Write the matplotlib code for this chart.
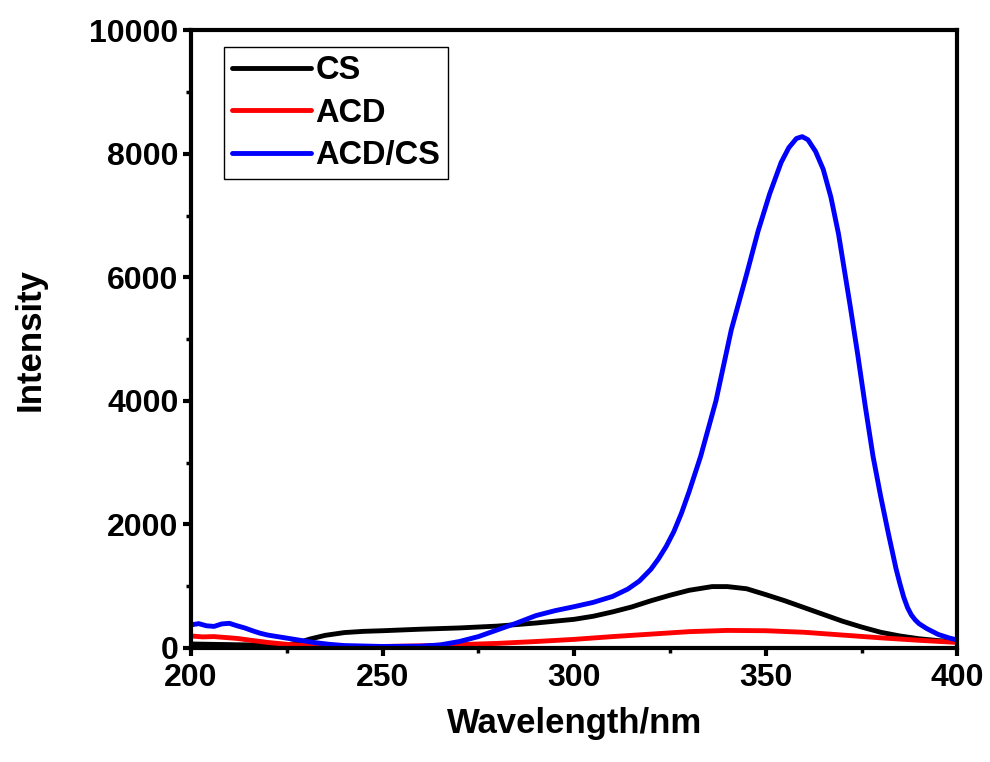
import matplotlib
matplotlib.use("Agg")
import matplotlib.pyplot as plt
from matplotlib.ticker import MultipleLocator

# values (wavelength in nm, intensity)
cs_wl = [200, 205, 210, 215, 220, 225, 228, 231, 235, 240, 245, 250, 260, 270, 280, 290, 300,
         305, 310, 315, 320, 325, 330, 336, 340, 345, 350, 355, 360, 365, 370, 375, 380, 385,
         390, 395, 400]
cs_int = [60, 55, 50, 45, 40, 45, 80, 140, 200, 245, 265, 275, 300, 320, 350, 400, 460,
          510, 580, 660, 760, 850, 930, 990, 990, 955, 860, 760, 650, 540, 430, 335, 250, 190,
          145, 115, 95]

acd_wl = [200, 203, 206, 209, 212, 215, 220, 225, 230, 240, 250, 260, 270, 280, 290, 300,
          310, 320, 330, 340, 350, 360, 370, 380, 390, 400]
acd_int = [190, 175, 180, 165, 150, 125, 85, 55, 35, 20, 20, 30, 50, 70, 100, 135,
           180, 220, 260, 280, 275, 250, 205, 160, 120, 85]

acdcs_wl = [200, 202, 204, 206, 208, 210, 212, 214, 216, 218, 220, 224, 228, 232, 236, 240,
            250, 260, 265, 270, 275, 280, 285, 290, 295, 300, 305, 310, 314, 317, 320, 322,
            324, 326, 328, 330, 333, 337, 341, 345, 348, 351, 354, 356, 358, 359.5, 361, 363,
            365, 367, 369, 372, 374, 376, 378, 380, 382, 384, 385, 386, 387, 388, 389, 390,
            392, 395, 398, 400]
acdcs_int = [370, 390, 355, 345, 385, 395, 355, 320, 275, 235, 205, 165, 125, 85, 55, 35,
             20, 25, 45, 100, 180, 290, 400, 520, 600, 665, 735, 830, 950, 1080, 1270, 1440,
             1640, 1880, 2180, 2530, 3100, 4000, 5150, 6050, 6750, 7350, 7860, 8100, 8250, 8280, 8230, 8040,
             7750, 7300, 6700, 5550, 4750, 3900, 3100, 2450, 1850, 1280, 1040, 820, 650, 530, 450, 390,
             310, 215, 155, 125]

series = [
    ("CS", cs_wl, cs_int, "black"),
    ("ACD", acd_wl, acd_int, "#ff0000"),
    ("ACD/CS", acdcs_wl, acdcs_int, "#0000ff"),
]

plt.rcParams["font.family"] = ["Liberation Sans", "DejaVu Sans"]
plt.rcParams["font.weight"] = "bold"

fig = plt.figure(figsize=(9.9, 7.62), dpi=100)
ax = fig.add_axes([0.193, 0.150, 0.774, 0.810])

for label, wl, inten, color in series:
    ax.plot(wl, inten, color=color, lw=3.5, label=label, solid_capstyle="round",
            solid_joinstyle="round")

ax.set_xlim(200, 400)
ax.set_ylim(0, 10000)
ax.xaxis.set_major_locator(MultipleLocator(50))
ax.xaxis.set_minor_locator(MultipleLocator(25))
ax.yaxis.set_major_locator(MultipleLocator(2000))
ax.yaxis.set_minor_locator(MultipleLocator(1000))

for side in ax.spines.values():
    side.set_linewidth(3.0)
ax.tick_params(which="major", direction="out", length=6, width=3, labelsize=23, pad=3)
ax.tick_params(axis="x", which="major", pad=5)
ax.tick_params(which="minor", direction="out", length=3.5, width=2.5)
for lab in ax.get_xticklabels() + ax.get_yticklabels():
    lab.set_fontweight("bold")

ax.set_xlabel("Wavelength/nm", fontsize=25, fontweight="bold", labelpad=10)
ax.set_ylabel("Intensity", fontsize=25, fontweight="bold", labelpad=31)

leg = ax.legend(loc="upper left", bbox_to_anchor=(0.043, 0.973), borderaxespad=0,
                frameon=True, fancybox=False, edgecolor="black", framealpha=1,
                handlelength=2.4, handletextpad=0.15, borderpad=0.25, labelspacing=0.35,
                prop={"weight": "bold", "size": 23.5})
leg.get_frame().set_linewidth(1.0)

fig.savefig("out.png", dpi=100)
